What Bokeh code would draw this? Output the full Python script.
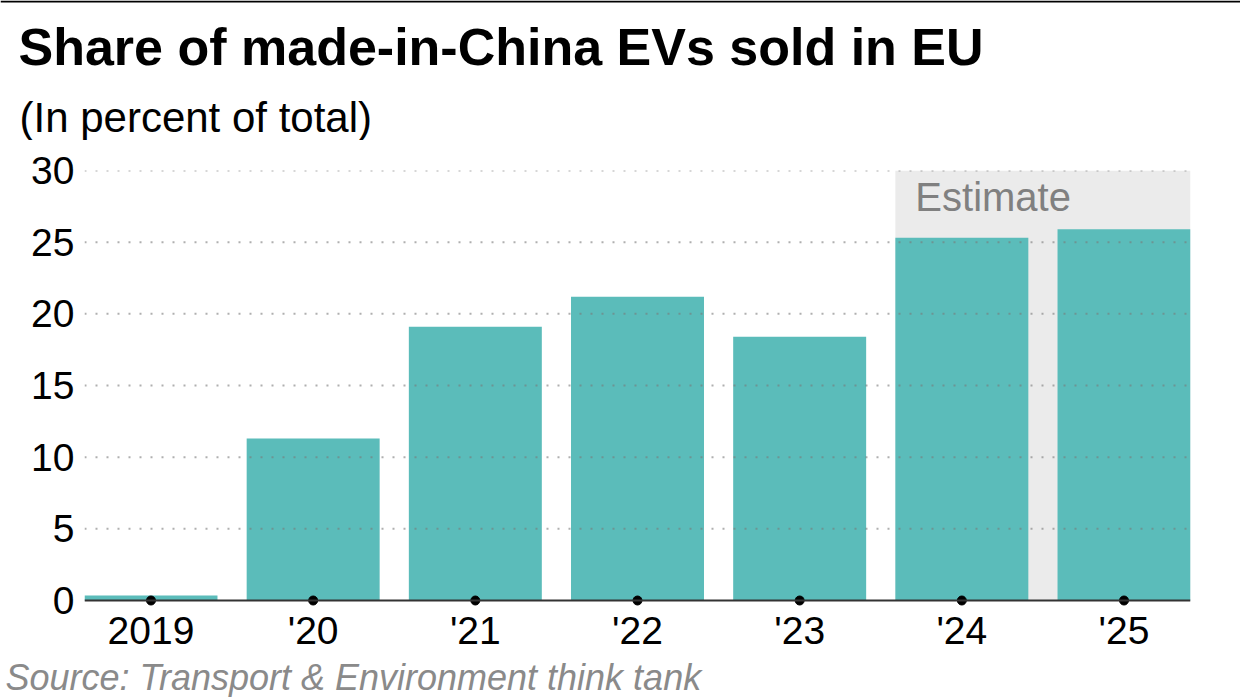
from bokeh.plotting import figure
from bokeh.layouts import column
from bokeh.models import Range1d, FixedTicker, Span, BoxAnnotation, Title
from bokeh.core.properties import value
from bokeh.embed import file_html
from bokeh.resources import INLINE

years = ["2019", "'20", "'21", "'22", "'23", "'24", "'25"]
shares = [0.35, 11.3, 19.1, 21.2, 18.4, 25.3, 25.9]
y_ticks = [0, 5, 10, 15, 20, 25, 30]
estimate_from = 5  # index of first estimated year
title_text = "Share of made-in-China EVs sold in EU"
subtitle_text = "(In percent of total)"
source_text = "Source: Transport & Environment think tank"
estimate_text = "Estimate"

BAR_W = 0.82
TEAL = "#5bbcba"
FONT = "Liberation Sans"

W = 1240
TOP_H, MAIN_H, LINE_H = 140, 557, 3
FL, FR, FT = 84, 50, 30
PX_PER_Y = 431 / 30.0
PAD_PX = 5  # room below zero for the tick dots
FB = MAIN_H - FT - 431 - PAD_PX

xs = list(range(len(years)))
x_lo = -BAR_W / 2
x_hi = len(years) - 1 + BAR_W / 2


def bare(fig):
    fig.outline_line_color = None
    fig.background_fill_color = "white"
    fig.border_fill_color = "white"
    fig.xgrid.grid_line_color = None
    fig.ygrid.grid_line_color = None
    return fig


# ---------- header ----------
top = bare(figure(width=W, height=TOP_H, output_backend="svg", toolbar_location=None,
                  x_range=Range1d(0, W), y_range=Range1d(0, TOP_H),
                  x_axis_type=None, y_axis_type=None, min_border=0, frame_align=False))
top.add_layout(Span(location=TOP_H - 1, dimension="width", line_color="black", line_width=2))
top.text(x=[18], y=[94], text=[title_text], text_font=value(FONT), text_font_size=value("52px"),
         text_font_style="bold", text_color="black", text_baseline="middle", text_align="left")
top.text(x=[19], y=[23], text=[subtitle_text], text_font=value(FONT), text_font_size=value("42px"),
         text_color="black", text_baseline="middle", text_align="left")

# ---------- main chart ----------
p = bare(figure(width=W, height=MAIN_H, output_backend="svg", toolbar_location=None,
                x_range=Range1d(x_lo, x_hi), y_range=Range1d(-PAD_PX / PX_PER_Y, 30),
                min_border_left=FL, min_border_right=FR, min_border_top=FT, min_border_bottom=FB,
                frame_align=False))

p.add_layout(BoxAnnotation(left=estimate_from - BAR_W / 2, right=x_hi, bottom=0, top=30,
                           fill_color="#ebebeb", fill_alpha=1.0, line_color=None, level="underlay"))
p.text(x=[estimate_from - BAR_W / 2], y=[30], x_offset=20, y_offset=26, text=[estimate_text],
       text_font=value(FONT), text_font_size=value("40px"), text_color="#808080",
       text_baseline="middle", text_align="left")

p.vbar(x=xs, top=shares, width=BAR_W, color=TEAL, line_color=None)

for t in y_ticks[1:]:
    p.add_layout(Span(location=t, dimension="width", line_color="#7a7a7a", line_alpha=0.6,
                      line_width=2, line_dash="2 9", level="overlay"))
p.add_layout(Span(location=0, dimension="width", line_color="#333333", line_width=2, level="overlay"))
p.scatter(x=xs, y=[0] * len(xs), size=9, color="black", level="overlay")

p.xaxis.ticker = FixedTicker(ticks=xs)
p.xaxis.major_label_overrides = {i: y for i, y in enumerate(years)}
p.xaxis.axis_line_color = None
p.xaxis.major_tick_line_color = None
p.xaxis.minor_tick_line_color = None
p.xaxis.major_tick_out = 0
p.xaxis.major_label_standoff = 3
p.xaxis.major_label_text_font = FONT
p.xaxis.major_label_text_font_size = "39px"
p.xaxis.major_label_text_color = "black"

p.yaxis.ticker = FixedTicker(ticks=y_ticks)
p.yaxis.axis_line_color = None
p.yaxis.major_tick_line_color = None
p.yaxis.minor_tick_line_color = None
p.yaxis.major_tick_out = 0
p.yaxis.major_label_standoff = 10
p.yaxis.major_label_text_font = FONT
p.yaxis.major_label_text_font_size = "39px"
p.yaxis.major_label_text_color = "black"

p.add_layout(Title(text=source_text, align="left", offset=-79, vertical_align="bottom", standoff=0,
                   text_font=FONT, text_font_size="36px", text_font_style="italic",
                   text_color="#8a8a8a"), "below")

# ---------- bottom rule ----------
rule = bare(figure(width=W, height=LINE_H, output_backend="svg", toolbar_location=None,
                   x_range=Range1d(0, W), y_range=Range1d(0, LINE_H),
                   x_axis_type=None, y_axis_type=None, min_border=0, frame_align=False))
rule.add_layout(Span(location=LINE_H / 2, dimension="width", line_color="black", line_width=2))

layout = column(top, p, rule, spacing=0)
open("out.html", "w").write(file_html(layout, INLINE))
